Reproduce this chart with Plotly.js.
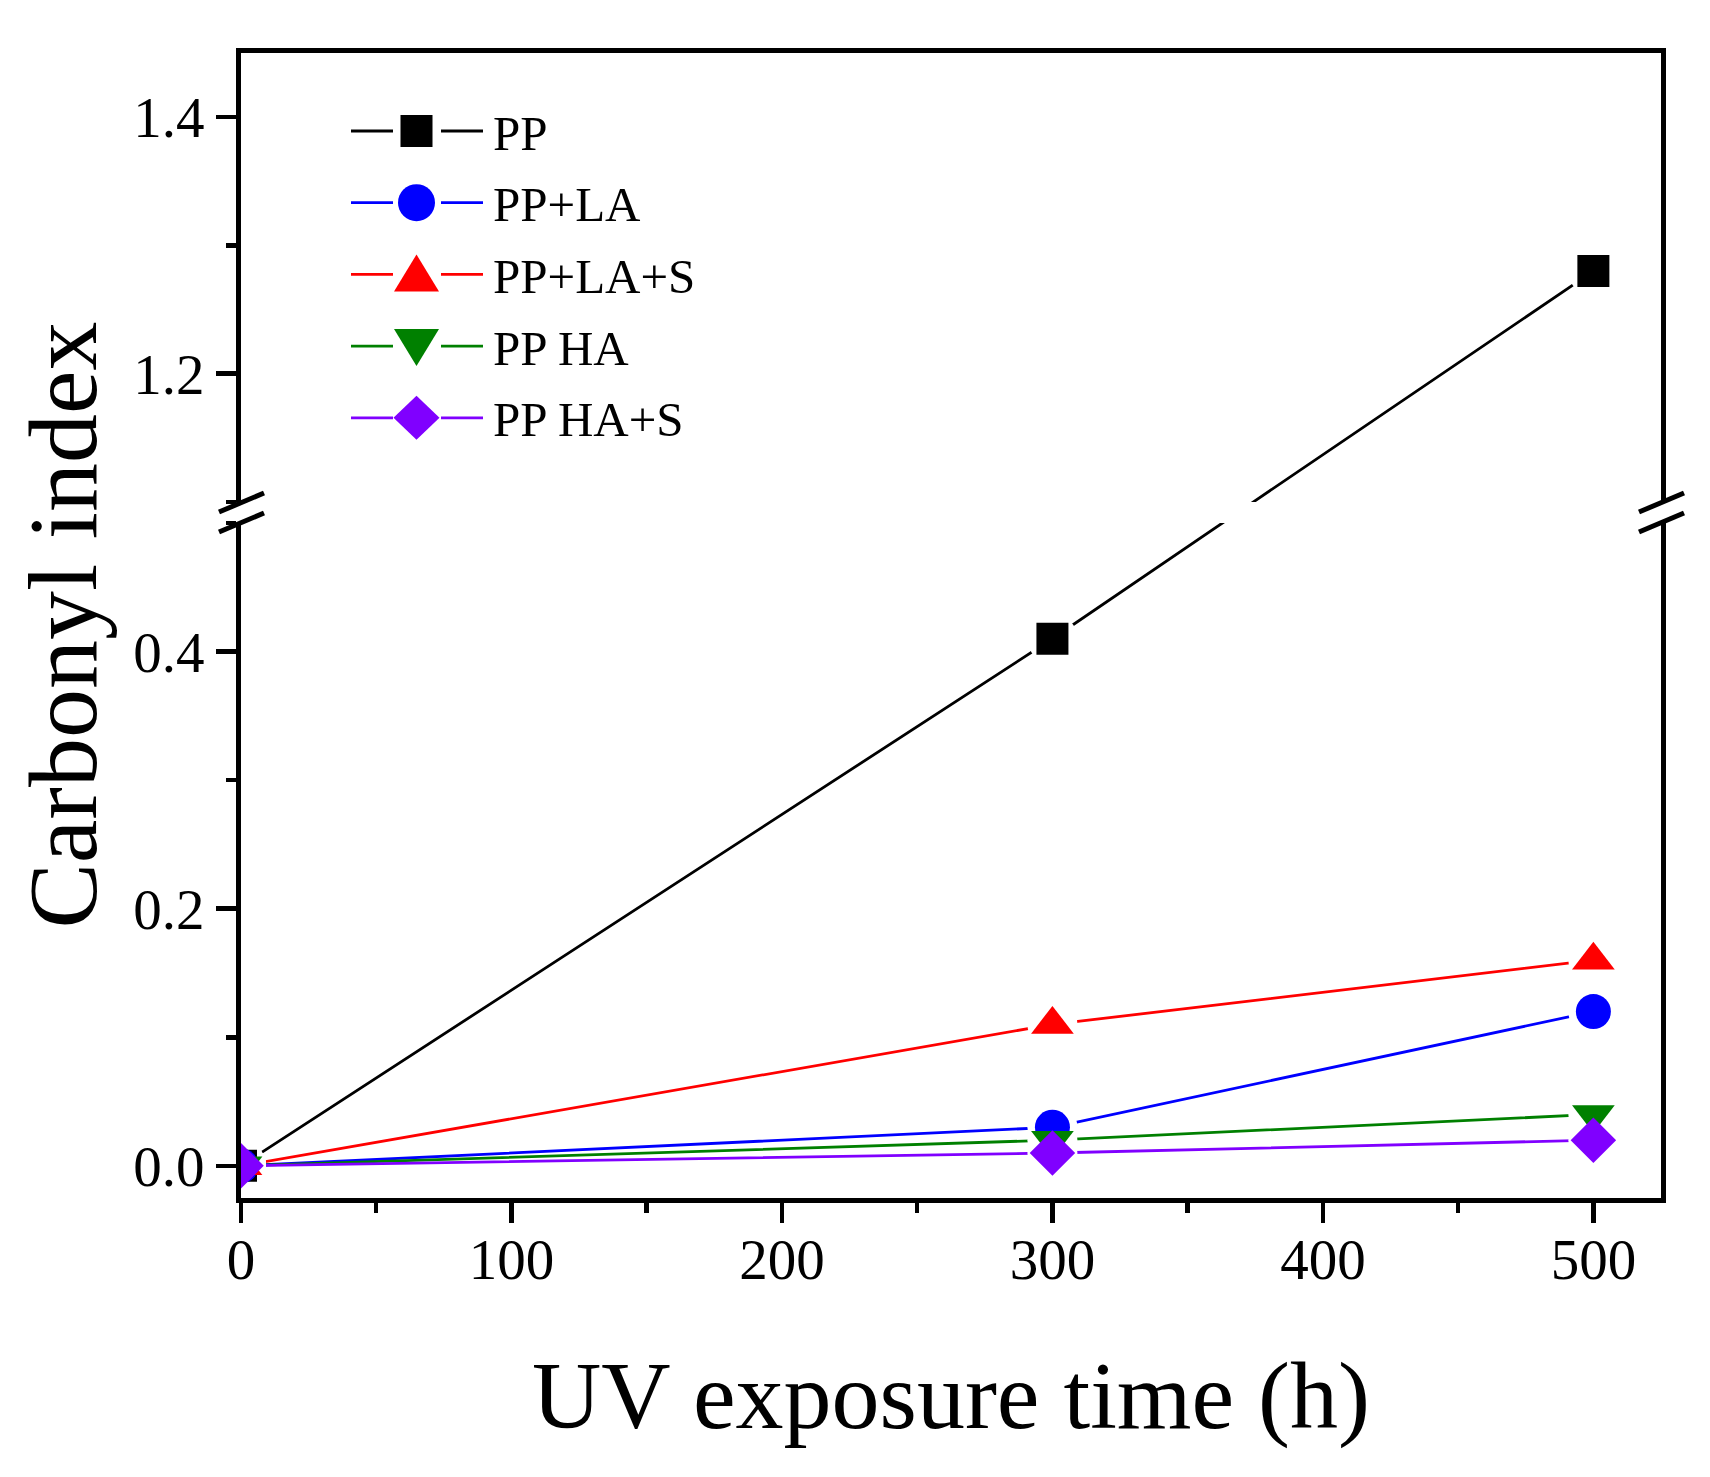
<!DOCTYPE html>
<html>
<head>
<meta charset="utf-8">
<script src="https://cdn.plot.ly/plotly-3.0.1.min.js"></script>
<style>
  html, body { margin: 0; padding: 0; background: #ffffff; }
  #chart { width: 1710px; height: 1477px; }
</style>
</head>
<body>
<div id="chart"></div>
<script>
// ---------------- data ----------------
const timeHours = [0, 300, 500];
const seriesNames = ['PP', 'PP+LA', 'PP+LA+S', 'PP HA', 'PP HA+S'];
const ppIndex     = [0, 0.41, 1.28];
const ppLaIndex   = [0, 0.03, 0.12];
const ppLaSIndex  = [0, 0.11, 0.16];
const ppHaIndex   = [0, 0.02, 0.04];
const ppHaSIndex  = [0, 0.01, 0.02];
const xAxisTitle = 'UV exposure time (h)';
const yAxisTitle = 'Carbonyl index';

// broken y axis: lower segment and upper segment
const lowerRange = [-0.025, 0.5];
const upperRange = [1.1, 1.45];

// ---------------- styles ----------------
const seriesValues  = [ppIndex, ppLaIndex, ppLaSIndex, ppHaIndex, ppHaSIndex];
const seriesColors  = ['#000000', '#0000FF', '#FF0000', '#008000', '#8000FF'];
const seriesSymbols = ['square', 'circle', 'triangle-up', 'triangle-down', 'diamond'];
const seriesSizes   = [32, 35, 37, 37, 35];
const FONT = 'Liberation Serif, Times New Roman, serif';

// ---------------- geometry (pixels) ----------------
const ML = 241, MT = 53, PW = 1420, PH = 1145;
const LOWER_TOP_PX = 523, UPPER_BOTTOM_PX = 502, BOTTOM_PX = MT + PH;
const lowerDomain = [0, (BOTTOM_PX - LOWER_TOP_PX) / PH];
const upperDomain = [(BOTTOM_PX - UPPER_BOTTOM_PX) / PH, 1];
// value units per pixel (same scale on both segments)
const unitsPerPx = (lowerRange[1] - lowerRange[0]) / (BOTTOM_PX - LOWER_TOP_PX);
const gapUnits = (LOWER_TOP_PX - UPPER_BOTTOM_PX) * unitsPerPx;
// offset between the two segments' coordinate frames on the broken axis
const breakOffset = (upperRange[0] - lowerRange[1]) - gapUnits;
const toLowerFrame = v => (v > lowerRange[1] ? v - breakOffset : v);
const toUpperFrame = v => (v < upperRange[0] ? v + breakOffset : v);

const subplots = [
  { xa: 'x', ya: 'y', map: toLowerFrame },
  { xa: 'x2', ya: 'y2', map: toUpperFrame }
];
const traces = [];
subplots.forEach(({ xa, ya, map }) => {
  const mapped = seriesValues.map(vals => vals.map(map));
  // connecting lines
  mapped.forEach((vals, i) => {
    traces.push({
      x: timeHours, y: vals, xaxis: xa, yaxis: ya, type: 'scatter', mode: 'lines',
      name: seriesNames[i], showlegend: false, hoverinfo: 'skip',
      line: { color: seriesColors[i], width: 2.8 }
    });
  });
  // white halo that opens a gap in the lines around each point
  mapped.forEach((vals, i) => {
    traces.push({
      x: timeHours, y: vals, xaxis: xa, yaxis: ya, type: 'scatter', mode: 'markers',
      showlegend: false, hoverinfo: 'skip',
      marker: { symbol: 'circle', size: 50, color: '#ffffff', line: { width: 0 } }
    });
  });
  // markers
  mapped.forEach((vals, i) => {
    traces.push({
      x: timeHours, y: vals, xaxis: xa, yaxis: ya, type: 'scatter', mode: 'markers',
      name: seriesNames[i], showlegend: false, hoverinfo: 'skip',
      marker: { symbol: seriesSymbols[i], size: seriesSizes[i], color: seriesColors[i], line: { width: 0 } }
    });
  });
});

// ---------------- layout helpers (pixel -> paper) ----------------
const fx = p => (p - ML) / PW;
const fy = p => (MT + PH - p) / PH;
const pt = (x, y) => fx(x).toFixed(5) + ',' + fy(y).toFixed(5);

const shapes = [];
const annotations = [];

// axis break marks
[ML, ML + PW].forEach(cx => {
  [[512, 493], [532, 513]].forEach(([ya, yb]) => {
    shapes.push({ type: 'line', xref: 'paper', yref: 'paper',
      x0: fx(cx - 22), y0: fy(ya), x1: fx(cx + 23), y1: fy(yb),
      line: { color: '#000000', width: 5 } });
  });
});

// custom legend
seriesNames.forEach((name, i) => {
  const cy = 131 + i * 71.7;
  const cx = 416.5;
  const col = seriesColors[i];
  shapes.push({ type: 'line', xref: 'paper', yref: 'paper',
    x0: fx(351), x1: fx(393), y0: fy(cy), y1: fy(cy), line: { color: col, width: 2.8 } });
  shapes.push({ type: 'line', xref: 'paper', yref: 'paper',
    x0: fx(441), x1: fx(483), y0: fy(cy), y1: fy(cy), line: { color: col, width: 2.8 } });
  const sym = seriesSymbols[i];
  let path;
  if (sym === 'square') {
    path = 'M' + pt(cx - 16, cy - 16) + 'L' + pt(cx + 16, cy - 16) + 'L' + pt(cx + 16, cy + 16) + 'L' + pt(cx - 16, cy + 16) + 'Z';
    shapes.push({ type: 'path', xref: 'paper', yref: 'paper', path, fillcolor: col, line: { width: 0 } });
  } else if (sym === 'circle') {
    shapes.push({ type: 'circle', xref: 'paper', yref: 'paper',
      x0: fx(cx - 18.5), x1: fx(cx + 18.5), y0: fy(cy - 18.5), y1: fy(cy + 18.5),
      fillcolor: col, line: { width: 0 } });
  } else if (sym === 'triangle-up') {
    path = 'M' + pt(cx - 22.5, cy + 17) + 'L' + pt(cx + 22.5, cy + 17) + 'L' + pt(cx, cy - 20) + 'Z';
    shapes.push({ type: 'path', xref: 'paper', yref: 'paper', path, fillcolor: col, line: { width: 0 } });
  } else if (sym === 'triangle-down') {
    path = 'M' + pt(cx - 22.5, cy - 17) + 'L' + pt(cx + 22.5, cy - 17) + 'L' + pt(cx, cy + 20) + 'Z';
    shapes.push({ type: 'path', xref: 'paper', yref: 'paper', path, fillcolor: col, line: { width: 0 } });
  } else {
    path = 'M' + pt(cx, cy - 22) + 'L' + pt(cx + 23, cy) + 'L' + pt(cx, cy + 22) + 'L' + pt(cx - 23, cy) + 'Z';
    shapes.push({ type: 'path', xref: 'paper', yref: 'paper', path, fillcolor: col, line: { width: 0 } });
  }
  annotations.push({ xref: 'paper', yref: 'paper', x: fx(491), y: fy(cy + 2),
    xanchor: 'left', yanchor: 'middle', showarrow: false, text: name,
    font: { family: FONT, size: 49, color: '#000000' } });
});

// y axis title spanning both segments
annotations.push({ xref: 'paper', yref: 'paper', x: fx(62), y: 0.5,
  xanchor: 'center', yanchor: 'middle', showarrow: false, textangle: -90,
  text: yAxisTitle, font: { family: FONT, size: 98, color: '#000000' } });

const tickFont = { family: FONT, size: 57, color: '#000000' };
const yCommon = {
  ticks: 'outside', ticklen: 20, tickwidth: 4.5, tickcolor: '#000000',
  showline: true, linewidth: 5, linecolor: '#000000', mirror: true,
  showgrid: false, zeroline: false, tickfont: tickFont,
  tick0: 0, dtick: 0.2, tickformat: '.1f',
  minor: { dtick: 0.1, ticks: 'outside', ticklen: 10, tickwidth: 4.5, tickcolor: '#000000', showgrid: false }
};

const layout = {
  width: 1710, height: 1477,
  margin: { l: ML, r: 1710 - ML - PW, t: MT, b: 1477 - MT - PH },
  paper_bgcolor: '#ffffff', plot_bgcolor: 'rgba(0,0,0,0)',
  showlegend: false,
  font: { family: FONT, color: '#000000' },
  xaxis: {
    domain: [0, 1], anchor: 'y', range: [0, 525], tick0: 0, dtick: 100,
    ticks: 'outside', ticklen: 20, tickwidth: 4.5, tickcolor: '#000000',
    showline: true, linewidth: 5, linecolor: '#000000', mirror: false,
    showgrid: false, zeroline: false, tickfont: tickFont, ticklabelstandoff: -12,
    minor: { dtick: 50, ticks: 'outside', ticklen: 10, tickwidth: 4.5, tickcolor: '#000000', showgrid: false },
    title: { text: xAxisTitle, font: { family: FONT, size: 96, color: '#000000' }, standoff: 72 }
  },
  xaxis2: {
    matches: 'x', anchor: 'y2', side: 'top', range: [0, 525],
    showline: true, linewidth: 5, linecolor: '#000000',
    ticks: '', showticklabels: false, showgrid: false, zeroline: false
  },
  yaxis: Object.assign({}, yCommon, { domain: lowerDomain, anchor: 'x', range: lowerRange }),
  yaxis2: Object.assign({}, yCommon, { domain: upperDomain, anchor: 'x2', range: upperRange }),
  shapes, annotations
};

Plotly.newPlot('chart', traces, layout, { staticPlot: true, displayModeBar: false });
</script>
</body>
</html>
